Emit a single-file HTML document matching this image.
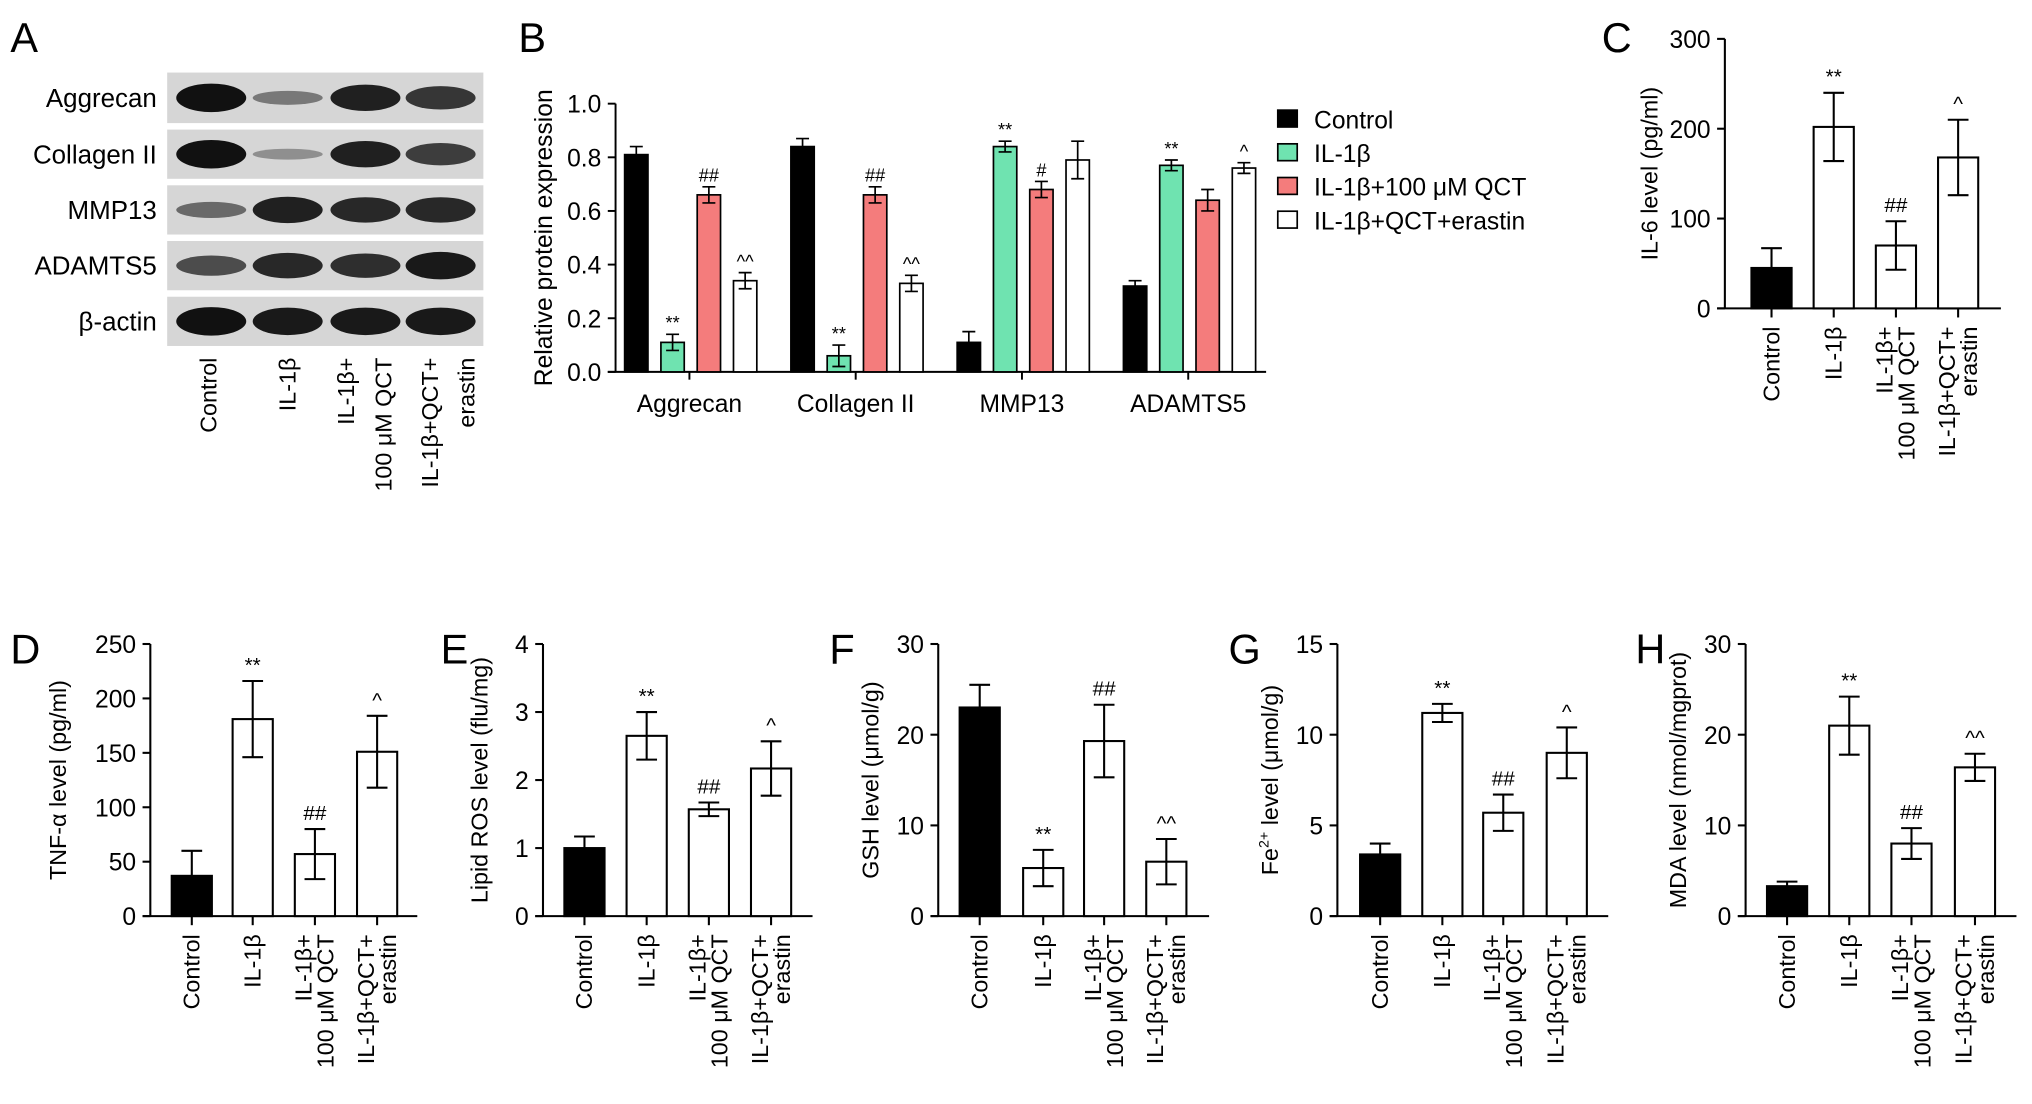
<!DOCTYPE html>
<html><head><meta charset="utf-8"><style>
html,body{margin:0;padding:0;background:#fff;}
svg{display:block;font-family:"Liberation Sans",Arial,sans-serif;}
</style></head><body>
<svg id="fig" width="2032" height="1104" viewBox="0 0 1568 852" preserveAspectRatio="none" xmlns="http://www.w3.org/2000/svg"></svg>
<script>
// ---- data ----
const groups = ["Control","IL-1β","IL-1β+QCT","IL-1β+QCT+erastin"];
const proteins = ["Aggrecan","Collagen II","MMP13","ADAMTS5"];
const bControl = [0.81,0.84,0.11,0.32];
const bControlErr = [0.03,0.03,0.04,0.02];
const bIL = [0.11,0.06,0.84,0.77];
const bILErr = [0.03,0.04,0.02,0.02];
const bQCT = [0.66,0.66,0.68,0.64];
const bQCTErr = [0.03,0.03,0.03,0.04];
const bEra = [0.34,0.33,0.79,0.76];
const bEraErr = [0.03,0.03,0.07,0.02];
const bSig = [["","**","##","^^"],["","**","##","^^"],["","**","#",""],["","**","","^"]];
const bTicks = ["0.0","0.2","0.4","0.6","0.8","1.0"];

const il6 = [45,202,70,168], il6Err = [22,38,27,42], il6Sig = ["","**","##","^"];
const tnf = [37,181,57,151], tnfErr = [23,35,23,33], tnfSig = ["","**","##","^"];
const ros = [1.0,2.65,1.57,2.17], rosErr = [0.17,0.35,0.1,0.4], rosSig = ["","**","##","^"];
const gsh = [23,5.3,19.3,6], gshErr = [2.5,2,4,2.5], gshSig = ["","**","##","^^"];
const fe = [3.4,11.2,5.7,9], feErr = [0.6,0.5,1,1.4], feSig = ["","**","##","^"];
const mda = [3.3,21,8,16.4], mdaErr = [0.5,3.2,1.7,1.5], mdaSig = ["","**","##","^^"];

const NS="http://www.w3.org/2000/svg";
const svg=document.getElementById('fig');
function mk(tag,attrs,parent,txt){const e=document.createElementNS(NS,tag);for(const k in attrs)e.setAttribute(k,attrs[k]);if(txt!==undefined)e.textContent=txt;(parent||svg).appendChild(e);return e;}

// panel letters
[["A",8,40],["B",400,40],["C",1236,40],["D",8,512],["E",340,512],["F",640,512],["G",948,512],["H",1262,512]].forEach(p=>{
  const t=mk('text',{x:p[1],y:p[2],'font-size':32},svg,p[0]);
  
  
});

// ---- Panel A blot ----
const blotRows=[[56,95,"Aggrecan",[1,0.3,0.9,0.75]],[100,138,"Collagen II",[1,0.15,0.9,0.7]],[143,181,"MMP13",[0.4,0.9,0.85,0.85]],[186,224,"ADAMTS5",[0.6,0.85,0.8,0.95]],[229,267,"β-actin",[1,0.95,0.95,0.95]]];
const laneX=[163,222,282,340];
blotRows.forEach(r=>{
  const g=mk('g',{});
  
  
  mk('rect',{x:129,y:r[0],width:244,height:r[1]-r[0],fill:'#d6d6d6'},g);
  const cy=(r[0]+r[1])/2;
  r[3].forEach((v,i)=>{mk('ellipse',{cx:laneX[i],cy:cy,rx:27,ry:3+8*v,fill:'#111','fill-opacity':0.25+0.75*v},g);});
  mk('text',{x:121,y:cy+7,'font-size':20,'text-anchor':'end'},g,r[2]);
});
const aLabels=[["Control"],["IL-1β"],["IL-1β+","100 μM QCT"],["IL-1β+QCT+","erastin"]];
const aLabelX=[[167],[228],[273,302],[338,366]];
aLabels.forEach((l,i)=>{
  l.forEach((s,j)=>{
    const t=mk('text',{transform:`translate(${aLabelX[i][j]},${276}) rotate(-90)`,'font-size':18,'text-anchor':'end'},svg,s);
    
    
  });
});

// ---- Panel B ----
(function(){
  const x0=475,x1=977,y0=287,yT=80;
  const ys=v=>y0-(v/1.0)*(y0-yT);
  const g=mk('g',{});
  mk('line',{x1:x0,y1:yT,x2:x0,y2:y0,stroke:'#000','stroke-width':1.5},g);
  mk('line',{x1:x0-6,y1:y0,x2:x1,y2:y0,stroke:'#000','stroke-width':1.5},g);
  bTicks.forEach(t=>{const y=ys(parseFloat(t));mk('line',{x1:x0-6,y1:y,x2:x0,y2:y,stroke:'#000','stroke-width':1.5},g);
    mk('text',{x:x0-11,y:y+7,'font-size':19,'text-anchor':'end'},g,t);});
  mk('text',{transform:`translate(${426},${(y0+yT)/2}) rotate(-90)`,'font-size':19,'text-anchor':'middle'},g,'Relative protein expression');
  const series=[[bControl,bControlErr,'#000'],[bIL,bILErr,'#6fe3b0'],[bQCT,bQCTErr,'#f47c7c'],[bEra,bEraErr,'#fff']];
  proteins.forEach((p,gi)=>{
    const gx=491+gi*128.3;
    series.forEach((s,si)=>{
      const cx=gx+si*28,v=s[0][gi],e=s[1][gi],w=18;
      const r=mk('rect',{x:cx-w/2,y:ys(v),width:w,height:y0-ys(v),fill:s[2],stroke:'#000','stroke-width':1.3},g);
      
      
      mk('path',{d:`M${cx},${ys(v+e)}V${ys(v-e)}M${cx-5},${ys(v+e)}H${cx+5}M${cx-5},${ys(v-e)}H${cx+5}`,stroke:'#000','stroke-width':1.3,fill:'none'},g);
      const sg=bSig[gi][si];
      if(sg) mk('text',{x:cx,y:ys(v+e)-4,'font-size':14,'text-anchor':'middle'},g,sg);
    });
    const tc=gx+41;
    mk('line',{x1:tc,y1:y0,x2:tc,y2:y0+6,stroke:'#000','stroke-width':1.5},g);
    mk('text',{x:tc,y:318,'font-size':19,'text-anchor':'middle'},g,p);
  });
  const lg=[['Control','#000'],['IL-1β','#6fe3b0'],['IL-1β+100 μM QCT','#f47c7c'],['IL-1β+QCT+erastin','#fff']];
  lg.forEach((l,i)=>{const y=92+i*26;
    const e=mk('g',{},g);
    mk('rect',{x:986,y:y-7,width:15,height:13,fill:l[1],stroke:'#000','stroke-width':1.3},e);
    mk('text',{x:1014,y:y+7,'font-size':19},e,l[0]);});
})();

// ---- Small bar charts ----
const xLab=[["Control"],["IL-1β"],["IL-1β+","100 μM QCT"],["IL-1β+QCT+","erastin"]];
function small(name,ax,y0,yT,max,ticks,title,titleX,vals,errs,sig,centres,xEnd,w){
  const g=mk('g',{});
  const ys=v=>y0-(v/max)*(y0-yT);
  mk('line',{x1:ax,y1:yT,x2:ax,y2:y0,stroke:'#000','stroke-width':1.6},g);
  mk('line',{x1:ax-6,y1:y0,x2:xEnd,y2:y0,stroke:'#000','stroke-width':1.6},g);
  ticks.forEach(t=>{const y=ys(t);mk('line',{x1:ax-6,y1:y,x2:ax,y2:y,stroke:'#000','stroke-width':1.6},g);
    mk('text',{x:ax-11,y:y+7,'font-size':19,'text-anchor':'end'},g,String(t));});
  const tt=mk('text',{transform:`translate(${titleX+7},${(y0+yT)/2}) rotate(-90)`,'font-size':18,'text-anchor':'middle'},g);
  title.forEach(p=>{mk('tspan',p[1]?{'font-size':11,dy:-7}:(p[2]?{dy:7}:{}),tt,p[0]);});
  vals.forEach((v,i)=>{
    const cx=centres[i],e=errs[i];
    const r=mk('rect',{x:cx-w/2,y:ys(v),width:w,height:y0-ys(v),fill:i==0?'#000':'#fff',stroke:'#000','stroke-width':1.6},g);
    
    
    mk('path',{d:`M${cx},${ys(v+e)}V${ys(v-e)}M${cx-8},${ys(v+e)}H${cx+8}M${cx-8},${ys(v-e)}H${cx+8}`,stroke:'#000','stroke-width':1.6,fill:'none'},g);
    mk('line',{x1:cx,y1:y0,x2:cx,y2:y0+7,stroke:'#000','stroke-width':1.6},g);
    if(sig[i]) mk('text',{x:cx,y:ys(v+e)-7,'font-size':16,'text-anchor':'middle'},g,sig[i]);
    xLab[i].forEach((s,j)=>{
      const x=cx+6+(j-(xLab[i].length-1)/2)*17;
      mk('text',{transform:`translate(${x},${y0+14}) rotate(-90)`,'font-size':18,'text-anchor':'end'},g,s);
    });
  });
}
small('chart-c',1331,238,30,300,[0,100,200,300],[['IL-6 level (pg/ml)']],1272,il6,il6Err,il6Sig,[1367,1415,1463,1511],1544,31);
small('chart-d',116,707,497,250,[0,50,100,150,200,250],[['TNF-α level (pg/ml)']],44,tnf,tnfErr,tnfSig,[148,195,243,291],322,31);
small('chart-e',419,707,497,4,[0,1,2,3,4],[['Lipid ROS level (flu/mg)']],369,ros,rosErr,rosSig,[451,499,547,595],627,31);
small('chart-f',724,707,497,30,[0,10,20,30],[['GSH level (μmol/g)']],671,gsh,gshErr,gshSig,[756,805,852,900],933,31);
small('chart-g',1032,707,497,15,[0,5,10,15],[['Fe'],['2+',true],[' level (μmol/g)',false,true]],979,fe,feErr,feSig,[1065,1113,1160,1209],1241,31);
small('chart-h',1347,707,497,30,[0,10,20,30],[['MDA level (nmol/mgprot)']],1294,mda,mdaErr,mdaSig,[1379,1427,1475,1524],1556,31);
</script>
</body></html>
